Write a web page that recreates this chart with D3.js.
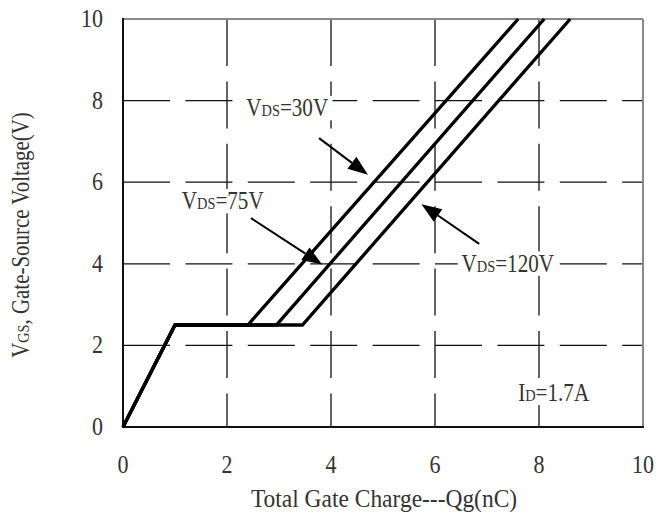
<!DOCTYPE html>
<html>
<head>
<meta charset="utf-8">
<script src="https://cdn.jsdelivr.net/npm/d3@7"></script>
<style>
  html, body { margin: 0; padding: 0; background: #fff; }
  svg { display: block; }
  text { font-family: "Liberation Serif", "Times New Roman", serif; fill: #333; }
</style>
</head>
<body>
<svg id="chart" width="657" height="512"></svg>
<script>
// Gate charge curves: total gate charge Qg (nC) vs gate-source voltage VGS (V)
const seriesNames = ["30V", "75V", "120V"];
const chargeQg = [
  [0, 1.0, 2.4, 7.6],
  [0, 1.0, 2.95, 8.1],
  [0, 1.0, 3.45, 8.6]
];
const voltageVgs = [
  [0, 2.5, 2.5, 10],
  [0, 2.5, 2.5, 10],
  [0, 2.5, 2.5, 10]
];
const xTicks = [0, 2, 4, 6, 8, 10];
const yTicks = [0, 2, 4, 6, 8, 10];
const gridX = [2, 4, 6, 8];
const gridY = [2, 4, 6, 8];

const svg = d3.select("#chart");
const margin = { left: 123, right: 14, top: 19, bottom: 85 };
const W = 657, H = 512;
const x = d3.scaleLinear().domain([0, 10]).range([margin.left, W - margin.right]);
const y = d3.scaleLinear().domain([0, 10]).range([H - margin.bottom, margin.top]);

// text placed in its own group so the glyphs can be stretched a little
function label(parent, px, py, sx, sy, rot) {
  return parent.append("g")
    .attr("transform", `translate(${px},${py})${rot ? ` rotate(${rot})` : ""} scale(${sx},${sy})`)
    .append("text");
}

// dashed grid
const dash = "47,15.4";
svg.append("g").selectAll("line").data(gridY).join("line")
  .attr("x1", x(0)).attr("x2", x(10))
  .attr("y1", d => y(d)).attr("y2", d => y(d))
  .attr("stroke", "#111").attr("stroke-width", 1.3).attr("stroke-dasharray", dash);
svg.append("g").selectAll("line").data(gridX).join("line")
  .attr("x1", d => x(d)).attr("x2", d => x(d))
  .attr("y1", y(10)).attr("y2", y(0))
  .attr("stroke", "#111").attr("stroke-width", 1.3).attr("stroke-dasharray", dash);

// frame: top and right in grey, left and bottom in black
svg.append("line").attr("x1", x(0)).attr("x2", x(10)).attr("y1", y(10)).attr("y2", y(10))
  .attr("stroke", "#8a8a8a").attr("stroke-width", 2);
svg.append("line").attr("x1", x(10)).attr("x2", x(10)).attr("y1", y(10)).attr("y2", y(0))
  .attr("stroke", "#8a8a8a").attr("stroke-width", 2);
svg.append("line").attr("x1", x(0)).attr("x2", x(0)).attr("y1", y(10) - 1).attr("y2", y(0) + 1)
  .attr("stroke", "#111").attr("stroke-width", 2);
svg.append("line").attr("x1", x(0) - 1).attr("x2", x(10) + 1).attr("y1", y(0)).attr("y2", y(0))
  .attr("stroke", "#111").attr("stroke-width", 2);

// curves
const line = d3.line().x(d => x(d[0])).y(d => y(d[1]));
seriesNames.forEach((name, i) => {
  const pts = chargeQg[i].map((q, j) => [q, voltageVgs[i][j]]);
  svg.append("path").datum(pts)
    .attr("d", line)
    .attr("fill", "none")
    .attr("stroke", "#000")
    .attr("stroke-width", 3.3)
    .attr("stroke-linejoin", "miter");
});

// tick labels
const tickFont = 22;
const tickG = svg.append("g");
xTicks.forEach(d => {
  label(tickG, x(d), y(0) + 46, 1, 1.12)
    .attr("text-anchor", "middle").attr("font-size", tickFont).text(d);
});
yTicks.forEach(d => {
  label(tickG, x(0) - 20, y(d) + 8, 1, 1.12)
    .attr("text-anchor", "end").attr("font-size", tickFont).text(d);
});

// axis titles
label(svg, (x(0) + x(10)) / 2 + 1, 507, 1.02, 1.12)
  .attr("text-anchor", "middle").attr("font-size", 23)
  .text("Total Gate Charge---Qg(nC)");

const yTitle = label(svg, 29, 235, 0.95, 1.1, -90)
  .attr("text-anchor", "middle").attr("font-size", 22);
yTitle.append("tspan").text("V");
yTitle.append("tspan").attr("font-size", 15).text("GS");
yTitle.append("tspan").text(", Gate-Source Voltage(V)");

// annotations: label text, label anchor and arrow, in data units
const annLabels = [["V", "DS", "=30V"], ["V", "DS", "=75V"], ["V", "DS", "=120V"], ["I", "D", "=1.7A"]];
const annAt = [[2.37, 7.62], [1.13, 5.34], [6.51, 3.81], [7.6, 0.64]];
const arrowFrom = [[3.77, 7.08], [2.46, 5.12], [6.85, 4.49], null];
const arrowTo = [[4.71, 6.18], [3.83, 3.98], [5.74, 5.46], null];

annLabels.forEach((parts, i) => {
  const t = label(svg, x(annAt[i][0]), y(annAt[i][1]), 0.96, 1.1)
    .attr("font-size", 22);
  t.append("tspan").text(parts[0]);
  t.append("tspan").attr("font-size", 15).text(parts[1]);
  t.append("tspan").text(parts[2]);
  const bb = t.node().getBBox();
  d3.select(t.node().parentNode).insert("rect", "text")
    .attr("x", bb.x - 4).attr("y", bb.y + 1)
    .attr("width", bb.width + 8).attr("height", bb.height - 2)
    .attr("fill", "#fff");
});

// arrows with filled heads
arrowFrom.forEach((from, i) => {
  if (!from) return;
  const x1 = x(from[0]), y1 = y(from[1]);
  const x2 = x(arrowTo[i][0]), y2 = y(arrowTo[i][1]);
  const ang = Math.atan2(y2 - y1, x2 - x1);
  const len = 20, half = 7.5;
  const bx = x2 - len * Math.cos(ang), by = y2 - len * Math.sin(ang);
  svg.append("line")
    .attr("x1", x1).attr("y1", y1).attr("x2", bx).attr("y2", by)
    .attr("stroke", "#000").attr("stroke-width", 2);
  const px = -Math.sin(ang) * half, py = Math.cos(ang) * half;
  svg.append("path")
    .attr("d", `M${x2},${y2}L${bx + px},${by + py}L${bx - px},${by - py}Z`)
    .attr("fill", "#000");
});
</script>
</body>
</html>
